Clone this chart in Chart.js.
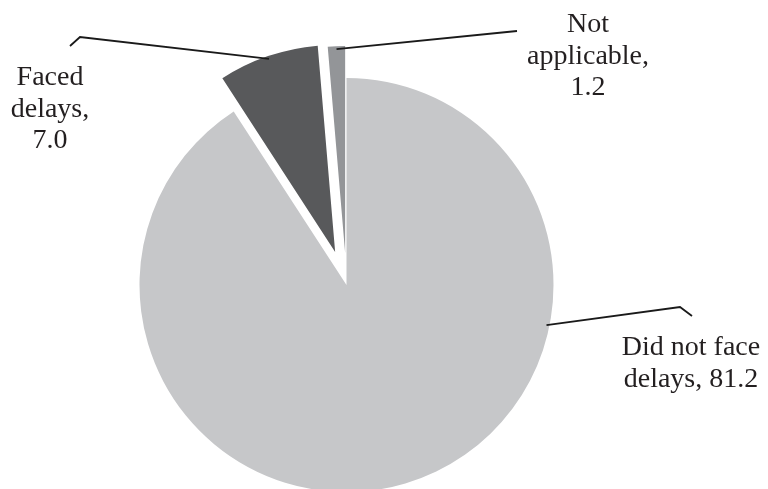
<!DOCTYPE html>
<html lang="en">

<head>
    <meta charset="UTF-8">
    <title>Delays</title>
    <script src="https://cdn.jsdelivr.net/npm/chart.js"></script>
    <style>
        body { margin: 0; background: #fff; }
        #wrap { width: 768px; height: 489px; position: relative; }
    </style>
</head>

<body>
    <div id="wrap"><canvas id="delaysChart"></canvas></div>

    <script>
        // Data
        const categories = ['Did not face delays', 'Faced delays', 'Not applicable'];
        const values = [81.2, 7.0, 1.2];
        const sliceColors = ['#c6c7c9', '#58595b', '#939598'];

        // How far each slice is pulled out of the pie (px)
        const explode = [0, 35, 32];

        // Label text, split into lines; {v} is replaced by the value
        const labelLines = [
            ['Did not face', 'delays, {v}'],
            ['Faced', 'delays,', '{v}'],
            ['Not', 'applicable,', '{v}']
        ];
        // label placement: centre x, first baseline
        const labelPos = [[691, 355], [50, 85], [588, 32]];
        // leader lines: where on the arc they start (fraction of the slice),
        // then the points they run to
        const leaderAt = [0.31, 0.5, 0.5];
        const leaderPath = [
            [[680, 307], [692, 316]],
            [[80, 37], [70, 46]],
            [[517, 31]]
        ];

        const FONT = '28px "Liberation Serif", "Times New Roman", serif';
        const LINE_H = 31.5;

        // move exploded slices without letting chart.js grow their radius
        const explodePlugin = {
            id: 'explode',
            afterUpdate(chart) {
                chart.getDatasetMeta(0).data.forEach((arc, i) => {
                    arc.draw = function (ctx) {
                        const mid = (this.startAngle + this.endAngle) / 2;
                        ctx.save();
                        ctx.translate(Math.cos(mid) * explode[i], Math.sin(mid) * explode[i]);
                        Chart.ArcElement.prototype.draw.call(this, ctx);
                        ctx.restore();
                    };
                });
            }
        };

        // leader lines and data labels
        const labelPlugin = {
            id: 'pieLabels',
            afterDraw(chart) {
                const ctx = chart.ctx;
                const arcs = chart.getDatasetMeta(0).data;
                ctx.save();
                arcs.forEach((arc, i) => {
                    const mid = (arc.startAngle + arc.endAngle) / 2;
                    const a = arc.startAngle + (arc.endAngle - arc.startAngle) * leaderAt[i];
                    const r = arc.outerRadius - 3;
                    const x0 = arc.x + Math.cos(a) * r + Math.cos(mid) * explode[i];
                    const y0 = arc.y + Math.sin(a) * r + Math.sin(mid) * explode[i];

                    ctx.beginPath();
                    ctx.moveTo(x0, y0);
                    leaderPath[i].forEach(p => ctx.lineTo(p[0], p[1]));
                    ctx.strokeStyle = '#1a1a1a';
                    ctx.lineWidth = 1.8;
                    ctx.stroke();

                    ctx.font = FONT;
                    ctx.fillStyle = '#231f20';
                    ctx.textAlign = 'center';
                    ctx.textBaseline = 'alphabetic';
                    labelLines[i].forEach((line, k) => {
                        const txt = line.replace('{v}', values[i].toFixed(1));
                        ctx.fillText(txt, labelPos[i][0], labelPos[i][1] + k * LINE_H);
                    });
                });
                ctx.restore();
            }
        };

        const ctx = document.getElementById('delaysChart').getContext('2d');
        new Chart(ctx, {
            type: 'pie',
            data: {
                labels: categories,
                datasets: [{
                    data: values,
                    backgroundColor: sliceColors,
                    borderWidth: 0
                }]
            },
            options: {
                responsive: true,
                maintainAspectRatio: false,
                animation: false,
                radius: 207,
                layout: {
                    padding: { left: 0, right: 75, top: 81, bottom: 0 }
                },
                plugins: {
                    legend: { display: false },
                    tooltip: { enabled: false }
                }
            },
            plugins: [explodePlugin, labelPlugin]
        });
    </script>
</body>

</html>
